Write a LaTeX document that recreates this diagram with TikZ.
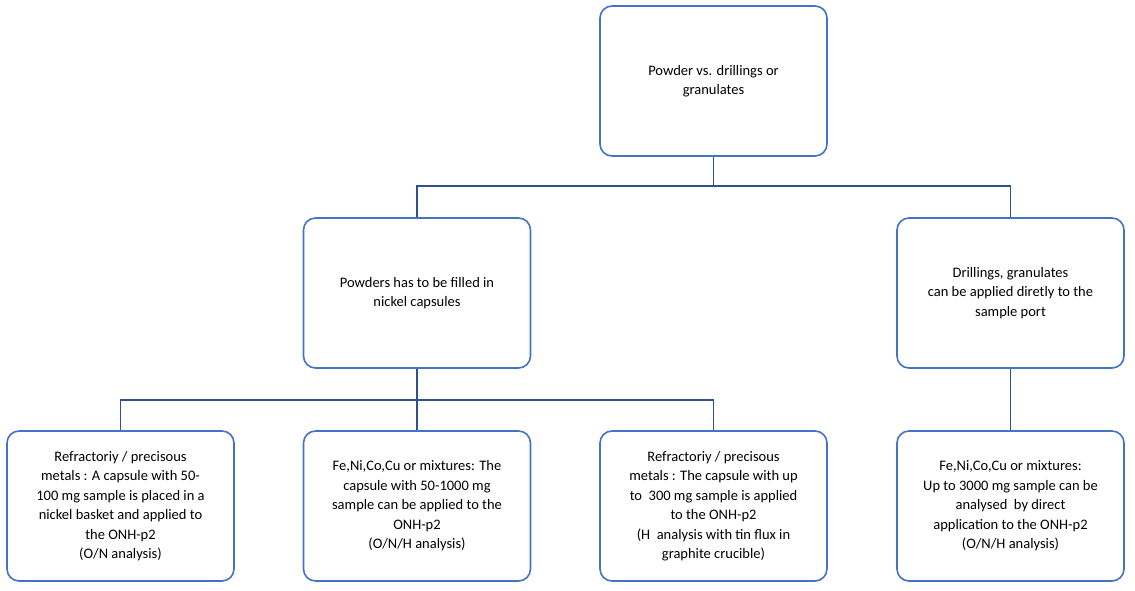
\documentclass[tikz,border=0pt]{standalone}
\usepackage{fontspec}
\setmainfont{Carlito}
\usetikzlibrary{positioning}
\definecolor{boxblue}{HTML}{4472C4}
\definecolor{lineblue}{HTML}{2F528F}
\tikzset{
  box/.style={draw=boxblue, line width=1.6pt, rounded corners=12pt, fill=white,
    minimum width=227pt, minimum height=150pt, align=center,
    font=\fontsize{14.5}{19.5}\selectfont},
  link/.style={draw=lineblue, line width=1.6pt}
}
\begin{document}
\begin{tikzpicture}[x=1pt, y=-1pt]
    \useasboundingbox (0,0) rectangle (1135,590);
    \node[box] (top) at (713.5, 81) {Powder vs. drillings or\\granulates};
    \node[box] (powder) at (417, 293) {Powders has to be filled in\\nickel capsules};
    \node[box] (drill) at (1010.5, 293) {Drillings, granulates\\can be applied diretly to the\\sample port};
    \node[box] (refr1) at (120.5, 506) {Refractoriy / precisous\\metals : A capsule with 50-\\100 mg sample is placed in a\\nickel basket and applied to\\the ONH-p2\\(O/N analysis)};
    \node[box] (fe1) at (417, 506) {Fe,Ni,Co,Cu or mixtures: The\\capsule with 50-1000 mg\\sample can be applied to the\\ONH-p2\\(O/N/H analysis)};
    \node[box] (refr2) at (713.5, 506) {Refractoriy / precisous\\metals : The capsule with up\\to\ \ 300 mg sample is applied\\to the ONH-p2\\(H\ \ analysis with tin flux in\\graphite crucible)};
    \node[box] (fe2) at (1010.5, 506) {Fe,Ni,Co,Cu or mixtures:\\Up to 3000 mg sample can be\\analysed\ \ by direct\\application to the ONH-p2\\(O/N/H analysis)};
    % tree connectors
    \draw[link] (top.south) -- ++(0,29) -| (powder.north);
    \draw[link] (top.south) -- ++(0,29) -| (drill.north);
    \draw[link] (powder.south) -- ++(0,31) -| (refr1.north);
    \draw[link] (powder.south) -- (fe1.north);
    \draw[link] (powder.south) -- ++(0,31) -| (refr2.north);
    \draw[link] (drill.south) -- (fe2.north);
\end{tikzpicture}
\end{document}
